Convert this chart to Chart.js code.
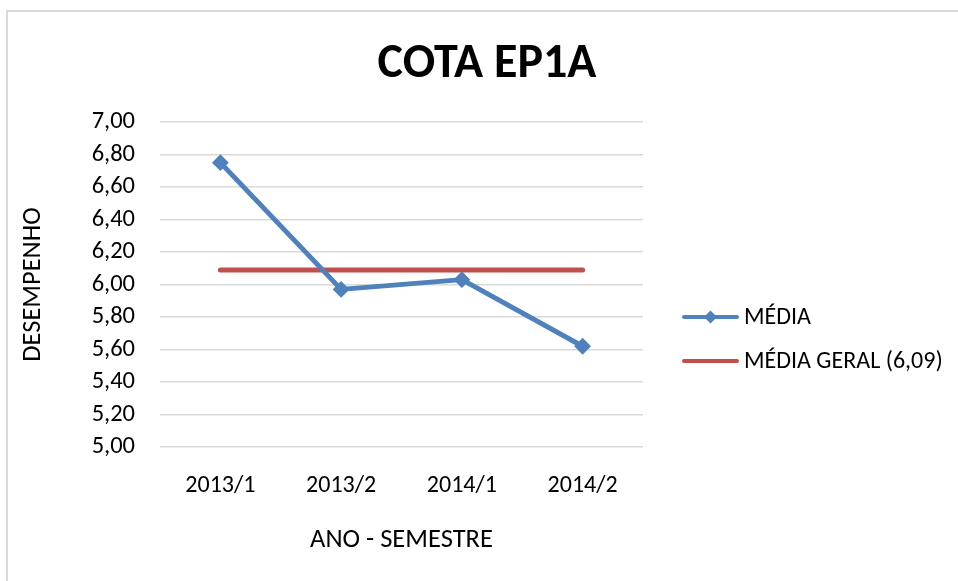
<!DOCTYPE html>
<html>
<head>
<meta charset="utf-8">
<script src="https://cdn.jsdelivr.net/npm/chart.js@4.4.1/dist/chart.umd.min.js"></script>
<style>
    body { margin: 0; background: #fff; }
    #wrap {
        position: relative;
        width: 958px;
        height: 581px;
    }
    #frame {
        position: absolute;
        left: 6px;
        top: 10px;
        right: 0;
        bottom: 0;
        border-left: 2px solid #d9d9d9;
        border-top: 2px solid #d9d9d9;
        pointer-events: none;
    }
    canvas { position: absolute; left: 0; top: 0; }
</style>
</head>
<body>
<div id="wrap">
    <canvas id="chart-line" width="958" height="581"></canvas>
    <div id="frame"></div>
</div>

<script>
    const categorias = ['2013/1', '2013/2', '2014/1', '2014/2'];
    const media = [6.75, 5.97, 6.03, 5.62];
    const mediaGeral = [6.09, 6.09, 6.09, 6.09];
    const yMin = 5.0;
    const yMax = 7.0;
    const yStep = 0.2;

    const FONT = 'Carlito, Lato, sans-serif';
    const AZUL = '#4f81bd';
    const VERMELHO = '#c0504d';

    // titulo e legenda desenhados a mao, como no grafico original
    const tituloELegenda = {
        id: 'tituloELegenda',
        afterDraw(chart) {
            const ctx = chart.ctx;
            ctx.save();
            ctx.fillStyle = '#000';
            ctx.font = 'bold 48px ' + FONT;
            ctx.textAlign = 'center';
            ctx.textBaseline = 'alphabetic';
            ctx.fillText('COTA EP1A', 487, 77);

            const rows = [317, 361];
            chart.data.datasets.forEach(function (ds, i) {
                const y = rows[i];
                ctx.strokeStyle = ds.borderColor;
                ctx.lineWidth = 4;
                ctx.lineCap = 'round';
                ctx.beginPath();
                ctx.moveTo(684, y);
                ctx.lineTo(737, y);
                ctx.stroke();
                if (ds.pointRadius > 0) {
                    ctx.fillStyle = ds.borderColor;
                    ctx.beginPath();
                    ctx.moveTo(704, y);
                    ctx.lineTo(710.5, y - 6.5);
                    ctx.lineTo(717, y);
                    ctx.lineTo(710.5, y + 6.5);
                    ctx.closePath();
                    ctx.fill();
                }
                ctx.fillStyle = '#000';
                ctx.font = '24px ' + FONT;
                ctx.textAlign = 'left';
                ctx.textBaseline = 'middle';
                ctx.fillText(ds.label, 744, y + 1);
            });
            ctx.restore();
        }
    };

    const ctx = document.getElementById('chart-line').getContext('2d');

    new Chart(ctx, {
        type: 'line',
        data: {
            labels: categorias,
            datasets: [
                {
                    label: 'MÉDIA',
                    data: media,
                    borderColor: AZUL,
                    backgroundColor: AZUL,
                    borderWidth: 5,
                    borderJoinStyle: 'round',
                    borderCapStyle: 'round',
                    tension: 0,
                    pointStyle: 'rectRot',
                    pointRadius: 7,
                    pointBorderWidth: 2,
                    pointBackgroundColor: AZUL,
                    pointBorderColor: AZUL
                },
                {
                    label: 'MÉDIA GERAL (6,09)',
                    data: mediaGeral,
                    borderColor: VERMELHO,
                    backgroundColor: VERMELHO,
                    borderWidth: 5,
                    borderCapStyle: 'round',
                    tension: 0,
                    pointRadius: 0
                }
            ]
        },
        options: {
            responsive: false,
            animation: false,
            layout: {
                padding: { top: 122, right: 315, bottom: 20, left: 8 }
            },
            plugins: {
                legend: { display: false },
                title: { display: false },
                tooltip: { enabled: false }
            },
            scales: {
                x: {
                    offset: true,
                    grid: { display: false },
                    border: { display: false },
                    ticks: {
                        color: '#000',
                        padding: 17,
                        font: { family: FONT, size: 24 }
                    },
                    title: {
                        display: true,
                        text: 'ANO - SEMESTRE',
                        color: '#000',
                        padding: { top: 0, bottom: 5 },
                        font: { family: FONT, size: 26.5 }
                    },
                    afterFit: function (scale) { scale.height = 114; }
                },
                y: {
                    min: yMin,
                    max: yMax,
                    grid: { color: '#d9d9d9', lineWidth: 1.5, drawTicks: false },
                    border: { display: false },
                    ticks: {
                        stepSize: yStep,
                        autoSkip: false,
                        color: '#000',
                        padding: 25,
                        font: { family: FONT, size: 24.5 },
                        callback: function (v) { return Number(v).toFixed(2).replace('.', ','); }
                    },
                    title: {
                        display: true,
                        text: 'DESEMPENHO',
                        color: '#000',
                        padding: { top: 9, bottom: 0 },
                        font: { family: FONT, size: 26.5 }
                    },
                    afterFit: function (scale) { scale.width = 152; }
                }
            }
        },
        plugins: [tituloELegenda]
    });
</script>
</body>
</html>
